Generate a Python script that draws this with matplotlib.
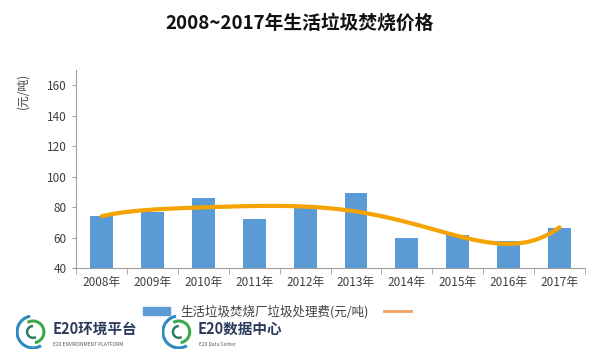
import matplotlib.pyplot as plt
import numpy as np
from matplotlib.patches import Arc, Rectangle
from matplotlib.lines import Line2D

plt.rcParams['font.family'] = ['Noto Sans CJK SC', 'DejaVu Sans']

# data
years = ['2008年', '2009年', '2010年', '2011年', '2012年',
         '2013年', '2014年', '2015年', '2016年', '2017年']
fees = [74, 77, 86, 72, 80, 89, 60, 62, 58, 66]
series_name = '生活垃圾焚烧厂垃圾处理费(元/吨)'
title = '2008~2017年生活垃圾焚烧价格'

bar_color = '#5B9BD5'
trend_color = '#F5A300'

fig = plt.figure(figsize=(6, 3.55), dpi=100)
ax = fig.add_axes([0.127, 0.245, 0.848, 0.558])

x = np.arange(len(years))
ax.bar(x, fees, width=0.45, color=bar_color, zorder=2)

# polynomial trendline like the excel one
coef = np.polyfit(x, fees, 5)
xs = np.linspace(0, len(years) - 1, 200)
ax.plot(xs, np.polyval(coef, xs), color=trend_color, lw=3, zorder=3,
        solid_capstyle='round')

ax.set_xlim(-0.5, len(years) - 0.5)
ax.set_ylim(40, 170)
ax.set_yticks(range(40, 161, 20))
ax.set_xticks(x)
ax.set_xticklabels(years, fontsize=8.5, color='#404040')
ax.set_xticks(np.arange(-0.5, len(years)), minor=True)
ax.tick_params(axis='x', which='major', length=0, pad=6)
ax.tick_params(axis='x', which='minor', length=4, color='#A0A0A0')
ax.tick_params(axis='y', labelsize=8.5, labelcolor='#404040', length=3,
               color='#A0A0A0', pad=4)
for s in ['top', 'right']:
    ax.spines[s].set_visible(False)
for s in ['left', 'bottom']:
    ax.spines[s].set_color('#A0A0A0')
    ax.spines[s].set_linewidth(0.8)

fig.text(0.038, 0.745, '(元/吨)', rotation=90, fontsize=8.5, color='#404040',
         ha='center', va='center')

fig.text(0.5, 0.935, title, fontsize=13.5, fontweight='bold', ha='center',
         va='center', color='#111111')

# legend
handles = [Rectangle((0, 0), 1, 1, color=bar_color),
           Line2D([0], [0], color='#F0A060', lw=2)]
fig.legend(handles, [series_name, ''], loc='center', ncol=2,
           bbox_to_anchor=(0.47, 0.123), frameon=False, fontsize=9,
           handlelength=2.2, handleheight=0.6, columnspacing=1.2,
           labelcolor='#404040')

# logos at bottom left
def logo(cx, cy, name, sub):
    r = 0.028
    la = fig.add_axes([cx - r, cy - r * 600 / 355, 2 * r, 2 * r * 600 / 355])
    la.set_xlim(-1, 1)
    la.set_ylim(-1, 1)
    la.set_aspect('equal')
    la.axis('off')
    la.add_patch(Arc((0, 0), 1.9, 1.9, theta1=100, theta2=300,
                     color='#2E8BC0', lw=2.2))
    la.add_patch(Arc((0, 0), 1.3, 1.3, theta1=280, theta2=120,
                     color='#3DAA4A', lw=2.2))
    la.add_patch(Arc((0, 0), 0.7, 0.7, theta1=90, theta2=300,
                     color='#2E7D60', lw=1.8))
    fig.text(cx + r + 0.004, cy + 0.008, name, fontsize=10.5,
             fontweight='bold', color='#2A3A5A', va='center')
    fig.text(cx + r + 0.006, cy - 0.035, sub, fontsize=3.5,
             color='#555555', va='center')

logo(0.055, 0.065, 'E20环境平台', 'E20 ENVIRONMENT PLATFORM')
logo(0.298, 0.065, 'E20数据中心', 'E20 Data Center')

fig.savefig('out.png', dpi=100, facecolor='white')
